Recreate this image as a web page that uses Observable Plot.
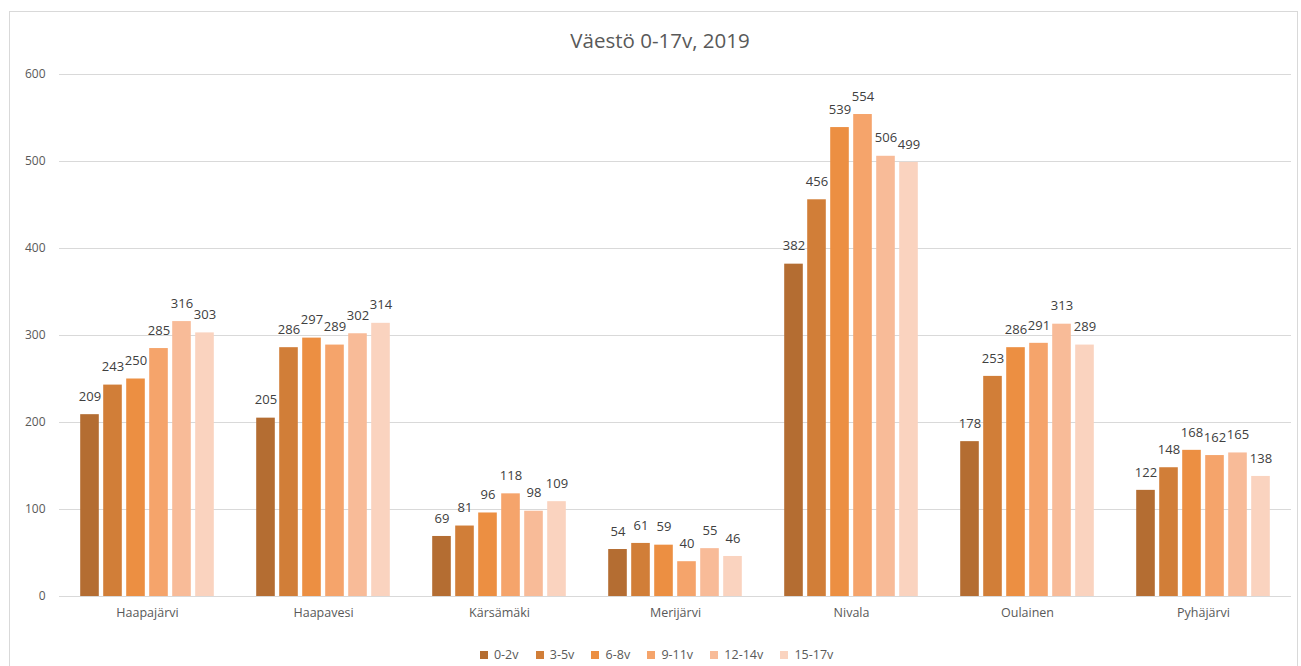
<!DOCTYPE html>
<html>
<head>
<meta charset="utf-8">
<script src="https://cdn.jsdelivr.net/npm/d3@7"></script>
<script src="https://cdn.jsdelivr.net/npm/@observablehq/plot@0.6"></script>
<style>
  html, body { margin: 0; padding: 0; background: #fff; }
  #wrap { position: relative; width: 1301px; height: 666px; overflow: hidden; font-family: "Open Sans", "Noto Sans", sans-serif; }
  #frame { position: absolute; left: 9px; top: 11px; width: 1289px; height: 660px; border: 1px solid #D9D9D9; box-sizing: border-box; }
  #title { position: absolute; left: 0; width: 1320px; top: 26px; text-align: center; font-size: 20.5px; color: #595959; }
  #plot { position: absolute; left: 0; top: 60px; }
  #legend { position: absolute; left: 0; width: 1330px; top: 638px; display: flex; justify-content: center; }
  .lg-swatch { margin-right: 17px !important; }
</style>
</head>
<body>
<div id="wrap">
  <div id="frame"></div>
  <div id="title">Väestö 0-17v, 2019</div>
  <div id="plot"></div>
  <div id="legend"></div>
</div>
<script>
const municipalities = ["Haapajärvi", "Haapavesi", "Kärsämäki", "Merijärvi", "Nivala", "Oulainen", "Pyhäjärvi"];
const ageGroups = ["0-2v", "3-5v", "6-8v", "9-11v", "12-14v", "15-17v"];
const v0_2   = [209, 205, 69, 54, 382, 178, 122];
const v3_5   = [243, 286, 81, 61, 456, 253, 148];
const v6_8   = [250, 297, 96, 59, 539, 286, 168];
const v9_11  = [285, 289, 118, 40, 554, 291, 162];
const v12_14 = [316, 302, 98, 55, 506, 313, 165];
const v15_17 = [303, 314, 109, 46, 499, 289, 138];
const yTicks = [0, 100, 200, 300, 400, 500, 600];
const colors = ["#B46D32", "#D17E38", "#EC8F42", "#F5A46B", "#F8BB98", "#FAD3BF"];

const series = [v0_2, v3_5, v6_8, v9_11, v12_14, v15_17];
const data = [];
municipalities.forEach((m, i) => {
  ageGroups.forEach((a, j) => {
    data.push({municipality: m, age: a, value: series[j][i]});
  });
});

const font = "'Open Sans', 'Noto Sans', sans-serif";
const chart = Plot.plot({
  width: 1301,
  height: 566,
  marginLeft: 57,
  marginRight: 8,
  marginTop: 14,
  marginBottom: 30,
  style: {fontFamily: font, fontSize: "12px", color: "#595959", background: "transparent", overflow: "visible"},
  fx: {domain: municipalities, padding: 0, label: null},
  x: {domain: ageGroups, axis: null, paddingInner: 0, paddingOuter: 0.71},
  y: {domain: [0, 600], label: null},
  color: {domain: ageGroups, range: colors},
  marks: [
    Plot.ruleY(yTicks, {stroke: "#D9D9D9", strokeWidth: 1}),
    Plot.axisY(yTicks, {tickSize: 0, tickPadding: 14, fontSize: 12, fill: "#595959", label: null, tickFormat: d => String(d)}),
    Plot.axisFx({anchor: "bottom", tickSize: 0, tickPadding: 12, fontSize: 12.5, fill: "#595959", label: null}),
    Plot.barY(data, {fx: "municipality", x: "age", y: "value", fill: "age", insetLeft: 2.2, insetRight: 2.2}),
    Plot.text(data, {fx: "municipality", x: "age", y: "value", text: d => String(d.value), dy: -18, fill: "#404040", fontSize: 13})
  ]
});
document.getElementById("plot").appendChild(chart);

const legend = Plot.legend({
  color: {domain: ageGroups, range: colors},
  legend: "swatches",
  swatchSize: 8,
  className: "lg",
  style: {fontFamily: font, fontSize: "12.5px", color: "#595959"}
});
document.getElementById("legend").appendChild(legend);
</script>
</body>
</html>
